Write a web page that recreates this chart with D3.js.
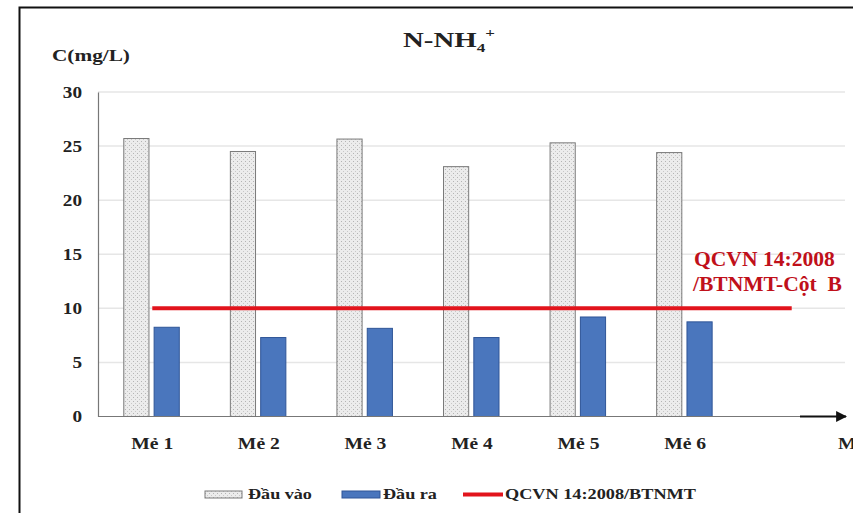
<!DOCTYPE html>
<html>
<head>
<meta charset="utf-8">
<script src="https://cdn.jsdelivr.net/npm/d3@7"></script>
<style>
  html, body { margin: 0; padding: 0; background: #fff; }
  svg { display: block; }
</style>
</head>
<body>
<svg id="chart" width="853" height="513"></svg>
<script>
// Batches (the last slot is empty: the standard line runs to its centre)
const categories = ["Mẻ 1", "Mẻ 2", "Mẻ 3", "Mẻ 4", "Mẻ 5", "Mẻ 6", ""];
const inputValues = [25.7, 24.5, 25.65, 23.1, 25.3, 24.4];
const outputValues = [8.25, 7.3, 8.15, 7.3, 9.2, 8.75];
const limitValues = [10, 10, 10, 10, 10, 10, 10];
const yTicks = [0, 5, 10, 15, 20, 25, 30];
const seriesNames = ["Đầu vào", "Đầu ra", "QCVN 14:2008/BTNMT"];

const FONT = "'Liberation Serif', 'DejaVu Serif', serif";
const INK = "#222";

const svg = d3.select("#chart")
  .attr("font-family", FONT).attr("font-weight", "bold");

// Widen a text horizontally about its anchor x so it spans `width` pixels
function stretchTo(sel, width) {
  sel.each(function () {
    const node = d3.select(this);
    const ax = +node.attr("x") || 0;
    const w = this.getBBox().width;
    const s = width / w;
    node.attr("transform", `translate(${ax},0) scale(${s},1) translate(${-ax},0)`);
  });
}
function stretchBy(sel, s) {
  sel.each(function () {
    const node = d3.select(this);
    const ax = +node.attr("x") || 0;
    node.attr("transform", `translate(${ax},0) scale(${s},1) translate(${-ax},0)`);
  });
}

// Pattern for the inlet bars
const defs = svg.append("defs");
const pat = defs.append("pattern")
  .attr("id", "dots").attr("patternUnits", "userSpaceOnUse")
  .attr("width", 4).attr("height", 4);
pat.append("rect").attr("width", 4).attr("height", 4).attr("fill", "#ececec");
pat.append("rect").attr("x", 1).attr("y", 1).attr("width", 1).attr("height", 1).attr("fill", "#b4b4b4");
pat.append("rect").attr("x", 3).attr("y", 3).attr("width", 1).attr("height", 1).attr("fill", "#c8c8c8");

// Outer frame
svg.append("path")
  .attr("d", "M19.5,513 V7.5 H853")
  .attr("fill", "none").attr("stroke", "#111").attr("stroke-width", 2);

const x = d3.scaleBand().domain(categories).range([99, 845]).padding(0);
const x1 = d3.scaleBand().domain(["in", "out"]).range([-28.5, 27]).paddingInner(0.17);
const y = d3.scaleLinear().domain([0, 30]).range([416.5, 92]);
const cx = c => x(c) + x.bandwidth() / 2;

// Gridlines
svg.append("g").selectAll("line").data(yTicks.filter(t => t > 0)).join("line")
  .attr("x1", 98).attr("x2", 845)
  .attr("y1", d => y(d)).attr("y2", d => y(d))
  .attr("stroke", "#e6e6e6").attr("stroke-width", 1.5);

// Y axis
const yAxis = d3.axisLeft(y).tickValues(yTicks).tickSize(0).tickPadding(16);
const gy = svg.append("g").attr("transform", "translate(98,0)").call(yAxis)
  .attr("font-family", FONT).attr("font-size", 16).attr("font-weight", "bold");
gy.select(".domain").attr("stroke", "#777").attr("stroke-width", 1.2);
gy.selectAll("text").attr("fill", INK).attr("x", -16).call(stretchBy, 1.2);

// Bars
const bars = svg.append("g");
bars.selectAll(".in").data(inputValues).join("rect")
  .attr("x", (d, i) => cx(categories[i]) + x1("in"))
  .attr("width", x1.bandwidth())
  .attr("y", d => y(d)).attr("height", d => y(0) - y(d))
  .attr("fill", "url(#dots)").attr("stroke", "#7a7a7a").attr("stroke-width", 1);
bars.selectAll(".out").data(outputValues).join("rect")
  .attr("x", (d, i) => cx(categories[i]) + x1("out"))
  .attr("width", x1.bandwidth())
  .attr("y", d => y(d)).attr("height", d => y(0) - y(d))
  .attr("fill", "#4a76bd").attr("stroke", "#2f5597").attr("stroke-width", 1);

// Standard limit line
const line = d3.line().x((d, i) => cx(categories[i])).y(d => y(d));
svg.append("path").datum(limitValues)
  .attr("d", line).attr("fill", "none")
  .attr("stroke", "#e2141c").attr("stroke-width", 4);

// X axis with arrow
defs.append("marker").attr("id", "arrow").attr("viewBox", "0 0 10 10")
  .attr("refX", 9).attr("refY", 5).attr("markerWidth", 5).attr("markerHeight", 5)
  .attr("orient", "auto-start-reverse")
  .append("path").attr("d", "M0,0 L10,5 L0,10 z").attr("fill", "#111");
svg.append("line").attr("x1", 98).attr("x2", 800).attr("y1", y(0)).attr("y2", y(0))
  .attr("stroke", "#777").attr("stroke-width", 1.2);
svg.append("line").attr("x1", 800).attr("x2", 846).attr("y1", y(0)).attr("y2", y(0))
  .attr("stroke", "#111").attr("stroke-width", 2.2).attr("marker-end", "url(#arrow)");

svg.append("g").selectAll("text").data(categories.filter(c => c)).join("text")
  .attr("x", d => cx(d)).attr("y", 449)
  .attr("text-anchor", "middle").attr("font-size", 17).attr("fill", INK)
  .text(d => d)
  .call(stretchTo, 42);
svg.append("text").attr("x", 838).attr("y", 449).attr("font-size", 17).attr("fill", INK)
  .text("Mẻ").call(stretchBy, 1.17);

// Titles
svg.append("text").attr("x", 52).attr("y", 61).attr("font-size", 17).attr("fill", INK)
  .text("C(mg/L)").call(stretchTo, 78);
const title = svg.append("text").attr("x", 403).attr("y", 47).attr("font-size", 22).attr("fill", INK);
title.append("tspan").text("N-NH");
title.append("tspan").attr("dy", 5).attr("font-size", 13).text("4");
title.append("tspan").attr("dy", -15).attr("font-size", 13).text("+");
title.call(stretchTo, 92);

// Annotation of the limit
const ann1 = svg.append("text").attr("x", 694).attr("y", 266).attr("font-size", 20).attr("fill", "#c0101a")
  .text("QCVN 14:2008").call(stretchTo, 141);
const ann2 = svg.append("text").attr("x", 693).attr("y", 291).attr("font-size", 20).attr("fill", "#c0101a")
  .text("/BTNMT-Cột  B").style("white-space", "pre").call(stretchTo, 150);

// Legend
const lg = svg.append("g").attr("font-size", 14).attr("fill", INK);
lg.append("rect").attr("x", 205).attr("y", 491).attr("width", 37).attr("height", 7)
  .attr("fill", "url(#dots)").attr("stroke", "#7a7a7a");
lg.append("text").attr("x", 248).attr("y", 499).text(seriesNames[0]).call(stretchTo, 64);
lg.append("rect").attr("x", 342).attr("y", 491).attr("width", 38).attr("height", 7)
  .attr("fill", "#4a76bd").attr("stroke", "#2f5597");
lg.append("text").attr("x", 383).attr("y", 499).text(seriesNames[1]).call(stretchTo, 54);
lg.append("line").attr("x1", 463).attr("x2", 503).attr("y1", 494.5).attr("y2", 494.5)
  .attr("stroke", "#e2141c").attr("stroke-width", 4);
lg.append("text").attr("x", 505).attr("y", 499).text(seriesNames[2]).call(stretchTo, 192);
</script>
</body>
</html>
